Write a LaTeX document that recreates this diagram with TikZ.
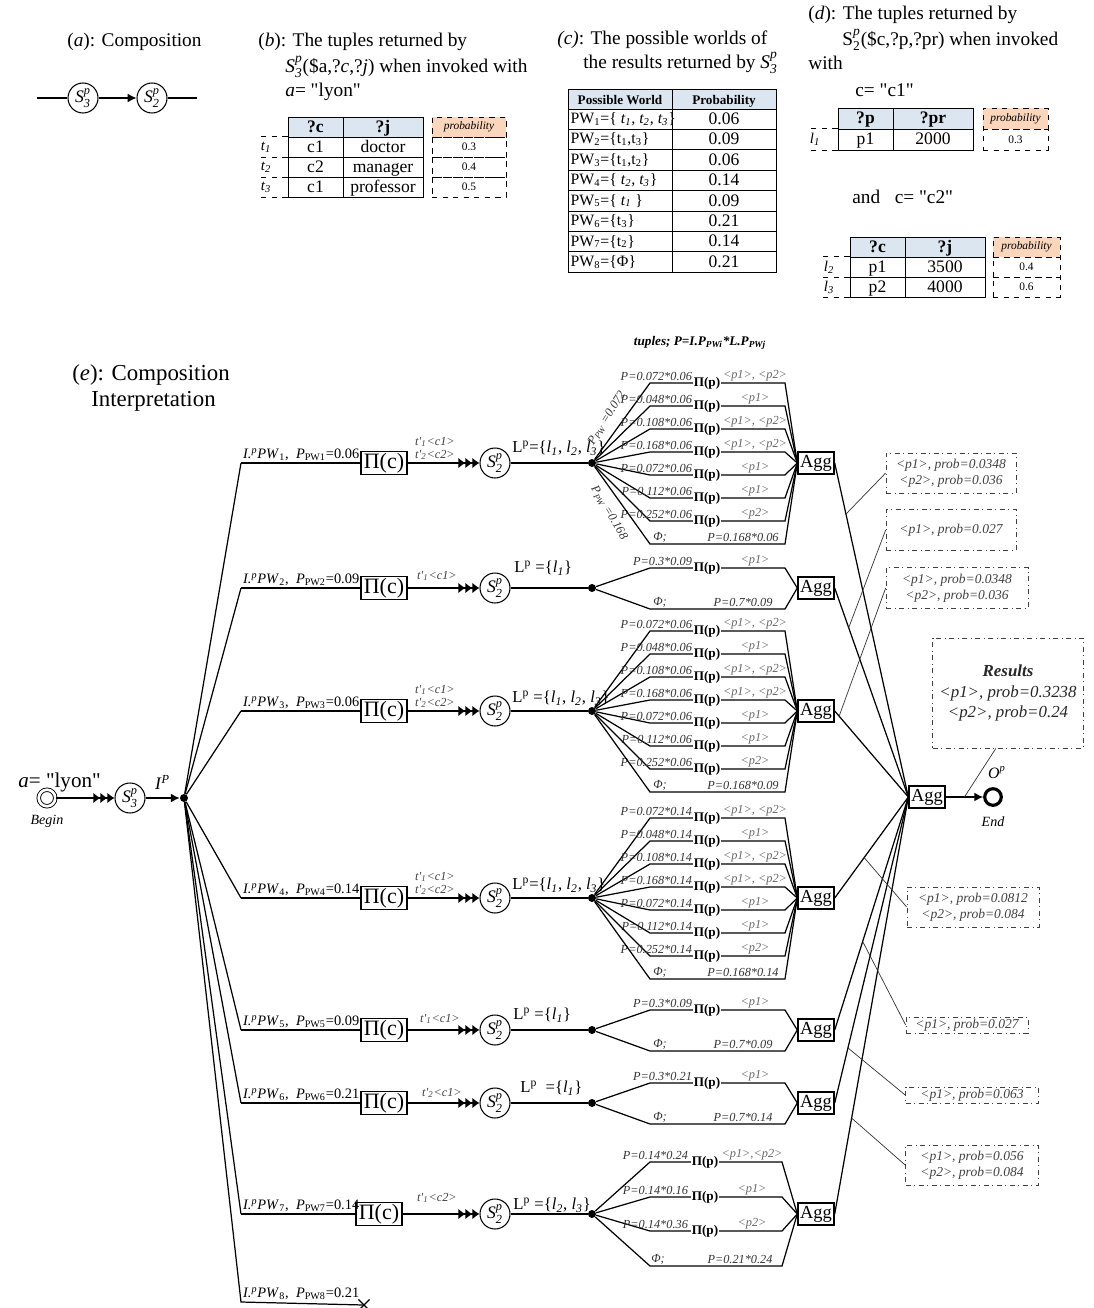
\documentclass[tikz,border=0pt]{standalone}
\usepackage{amsmath}
\usepackage{fontspec}
\setmainfont{Liberation Serif}[Ligatures=TeXOff]
\usetikzlibrary{arrows.meta,calc,positioning,shapes.misc}

\definecolor{headblue}{RGB}{220,230,241}
\definecolor{probpeach}{RGB}{250,214,188}

\newcommand{\Sp}[1]{$\textit{S}^{\textit{p}}_{\textit{#1}}$}
\newcommand{\IPW}[2]{\textit{I.\textsuperscript{p}PW}\textsubscript{#1},\ \ \textit{P}\textsubscript{PW#1}=#2}

\tikzset{
  svc/.style={circle, draw, line width=0.6pt, minimum size=0.6cm, inner sep=0pt, font=\fontsize{10}{10}\selectfont},
  projc/.style={draw, line width=0.8pt, minimum width=0.92cm, minimum height=0.46cm, inner sep=0pt, font=\fontsize{12.5}{12.5}\selectfont},
  aggbox/.style={draw, line width=0.8pt, minimum width=0.72cm, minimum height=0.44cm, inner sep=0pt, font=\fontsize{10.5}{10.5}\selectfont},
  junction/.style={circle, fill, inner sep=0pt, minimum size=0.16cm},
  flow/.style={line width=0.7pt},
  tripletip/.style={-{Latex[length=4pt,width=6pt]Latex[length=4pt,width=6pt]Latex[length=4pt,width=6pt]}},
  brlab/.style={font=\fontsize{8.2}{8.2}\selectfont, inner sep=1pt, anchor=south west},
  tlab/.style={font=\fontsize{7}{7}\selectfont\itshape, text=black!75, inner sep=0.5pt},
  lplab/.style={font=\fontsize{9.5}{9.5}\selectfont, inner sep=0pt, anchor=west},
  plab/.style={font=\fontsize{7}{7}\selectfont\itshape, text=black!80, inner sep=1pt},
  rlab/.style={font=\fontsize{7}{7}\selectfont\itshape, text=black!60, inner sep=1pt},
  projp/.style={fill=white, font=\fontsize{7.5}{7.5}\selectfont\bfseries, inner sep=0.3pt},
  note/.style={draw=black!75, dash dot, line width=0.4pt, align=center, inner sep=0pt, font=\fontsize{7.7}{9}\selectfont\itshape, text=black!75},
  hint/.style={draw=black!80, line width=0.4pt},
  cell/.style={draw, line width=0.5pt, inner sep=0pt, minimum height=0.4cm, text height=1.6ex, text depth=0.3ex, font=\fontsize{10}{10}\selectfont},
  head/.style={cell, fill=headblue, font=\fontsize{10}{10}\selectfont\bfseries},
  probhead/.style={draw, dashed, line width=0.4pt, fill=probpeach, inner sep=0pt, minimum height=0.4cm, font=\fontsize{6.5}{6.5}\selectfont\itshape},
  probcell/.style={draw, dashed, line width=0.4pt, inner sep=0pt, minimum height=0.4cm, font=\fontsize{6.5}{6.5}\selectfont},
  rowlab/.style={font=\fontsize{8.5}{8.5}\selectfont\itshape, inner sep=0pt},
  rowrule/.style={dashed, line width=0.4pt},
  title/.style={font=\fontsize{11}{13}\selectfont, inner sep=0pt, anchor=west},
}

% eight-way fan: branch id, centre y, factor, last P
\newcommand{\bigfan}[4]{%
  \foreach \k/\dy/\pv/\res in {1/-80/0.072/{<p1>, <p2>},2/-57/0.048/{<p1>},3/-34/0.108/{<p1>, <p2>},4/-11/0.168/{<p1>, <p2>},5/12/0.072/{<p1>},6/35/0.112/{<p1>},7/58/0.252/{<p2>}}{%
    \coordinate (fa#1-\k) at (650,#2+\dy);
    \coordinate (fb#1-\k) at (785,#2+\dy);
    \draw[flow] (dot#1) -- (fa#1-\k) -- (fb#1-\k) -- (agg#1.west);
    \node[projp] at (707,#2+\dy) {Π(p)};
    \node[plab, anchor=south east] at (694,#2+\dy) {P=\pv*#3};
    \node[rlab, anchor=south] at (755,#2+\dy) {\res};
  }
  \coordinate (fa#1-8) at (650,#2+81);
  \coordinate (fb#1-8) at (785,#2+81);
  \draw[flow] (dot#1) -- (fa#1-8) -- (fb#1-8) -- (agg#1.west);
  \node[plab, anchor=south] at (660,#2+81) {Φ;};
  \node[plab, anchor=south] at (743,#2+81) {P=#4};
}

% two-way fan: branch id, centre y, top P, result, bottom P
\newcommand{\twofan}[5]{%
  \coordinate (fa#1-1) at (650,#2-20);
  \coordinate (fb#1-1) at (785,#2-20);
  \coordinate (fa#1-2) at (650,#2+21);
  \coordinate (fb#1-2) at (785,#2+21);
  \draw[flow] (dot#1) -- (fa#1-1) -- (fb#1-1) -- (agg#1.west);
  \draw[flow] (dot#1) -- (fa#1-2) -- (fb#1-2) -- (agg#1.west);
  \node[projp] at (707,#2-20) {Π(p)};
  \node[plab, anchor=south east] at (694,#2-20) {#3};
  \node[rlab, anchor=south] at (755,#2-20) {#4};
  \node[plab, anchor=south] at (660,#2+21) {Φ;};
  \node[plab, anchor=south] at (743,#2+21) {#5};
}

\begin{document}
\begin{tikzpicture}[x=0.02cm, y=-0.02cm]
\useasboundingbox (0,0) rectangle (1094,1308);

%% (a) COMPOSITION
\node[title] at (67,42) {(\textit{a}): Composition};
\node[svc] (a_s3) at (83,98) {\Sp{3}};
\node[svc] (a_s2) at (152,98) {\Sp{2}};
\coordinate (a_in) at (37,98);
\coordinate (a_out) at (197,98);
\draw[flow] (a_in) -- (a_s3);
\draw[flow, -{Latex[length=5pt,width=5pt]}] (a_s3) -- (a_s2);
\draw[flow] (a_s2) -- (a_out);

%% (b) TUPLES OF S3
\node[title] at (258,42) {(\textit{b}): The tuples returned by};
\node[title] at (285,67) {\Sp{3}(\$a,?\textit{c},?\textit{j}) when invoked with};
\node[title] at (285,92) {\textit{a}= "lyon"};

\node[head, minimum width=1.1cm] (b_c) at (315.5,127) {?c};
\node[head, minimum width=1.6cm] (b_j) at (383,127) {?j};
\node[probhead, minimum width=1.48cm] (b_p) at (469,127) {probability};
\foreach \r/\y/\c/\j/\p in {1/147/c1/doctor/0.3, 2/167/c2/manager/0.4, 3/187/c1/professor/0.5}{
  \node[cell, minimum width=1.1cm] (b_c\r) at (315.5,\y) {\c};
  \node[cell, minimum width=1.6cm] (b_j\r) at (383,\y) {\j};
  \node[probcell, minimum width=1.48cm] (b_p\r) at (469,\y) {\p};
  \node[rowlab] at (266,\y) {t\textsubscript{\r}};
  \draw[rowrule] (b_c\r.south west) -- ++(-30,0);
}
\draw[rowrule] (b_c1.north west) -- ++(-30,0);

%% (c) POSSIBLE WORLDS
\node[title] at (557,40) {\textit{(c)}: The possible worlds of};
\node[title] at (583,63) {the results returned by \Sp{3}};

\node[head, minimum width=2.08cm, font=\fontsize{7.5}{7.5}\selectfont\bfseries] (c_pw) at (620,99) {Possible World};
\node[head, minimum width=2.08cm, font=\fontsize{7.5}{7.5}\selectfont\bfseries] (c_pr) at (724,99) {Probability};
\foreach \r/\y/\w/\p in {
  1/119.2/{PW\textsubscript{1}=\{ \textit{t\textsubscript{1}, t\textsubscript{2}, t\textsubscript{3}}\}}/0.06,
  2/139.6/{PW\textsubscript{2}=\{t\textsubscript{1},t\textsubscript{3}\}}/0.09,
  3/160/{PW\textsubscript{3}=\{t\textsubscript{1},t\textsubscript{2}\}}/0.06,
  4/180.4/{PW\textsubscript{4}=\{ \textit{t\textsubscript{2}, t\textsubscript{3}}\}}/0.14,
  5/200.8/{PW\textsubscript{5}=\{ \textit{t\textsubscript{1}} \}}/0.09,
  6/221.2/{PW\textsubscript{6}=\{t\textsubscript{3}\}}/0.21,
  7/241.6/{PW\textsubscript{7}=\{t\textsubscript{2}\}}/0.14,
  8/262/{PW\textsubscript{8}=\{Φ\}}/0.21}{
  \node[cell, minimum width=2.08cm, minimum height=0.408cm] (c_w\r) at (620,\y) {};
  \node[anchor=west, inner sep=0pt, font=\fontsize{9}{9}\selectfont] at (c_w\r.west) {\,\w};
  \node[cell, minimum width=2.08cm, minimum height=0.408cm, font=\fontsize{10}{10}\selectfont] (c_p\r) at (724,\y) {\p};
}

%% (d) TUPLES OF S2
\node[title] at (808,15) {(\textit{d}): The tuples returned by};
\node[title] at (842,40) {$\text{S}^{\textit{p}}_{\text{2}}$(\$c,?p,?pr) when invoked};
\node[title] at (808,63) {with};
\node[title] at (855,90) {c= "c1"};

\node[head, minimum width=1.1cm, minimum height=0.42cm] (d_p) at (865.5,118.5) {?p};
\node[head, minimum width=1.6cm, minimum height=0.42cm] (d_pr) at (933,118.5) {?pr};
\node[probhead, minimum width=1.3cm, minimum height=0.42cm] (d_prob) at (1015.5,118.5) {probability};
\node[cell, minimum width=1.1cm, minimum height=0.42cm] (d_p1) at (865.5,139.5) {p1};
\node[cell, minimum width=1.6cm, minimum height=0.42cm] (d_pr1) at (933,139.5) {2000};
\node[probcell, minimum width=1.3cm, minimum height=0.42cm] (d_prob1) at (1015.5,139.5) {0.3};
\node[rowlab] at (815,139.5) {l\textsubscript{1}};
\draw[rowrule] (d_p1.north west) -- ++(-28,0);
\draw[rowrule] (d_p1.south west) -- ++(-28,0);

\node[title] at (852,197) {and~~~c= "c2"};

\node[head, minimum width=1.1cm] (e_c) at (877.5,247) {?c};
\node[head, minimum width=1.6cm] (e_j) at (945,247) {?j};
\node[probhead, minimum width=1.34cm] (e_p) at (1026.5,247) {probability};
\foreach \r/\y/\c/\j/\p in {2/267/p1/3500/0.4, 3/287/p2/4000/0.6}{
  \node[cell, minimum width=1.1cm] (e_c\r) at (877.5,\y) {\c};
  \node[cell, minimum width=1.6cm] (e_j\r) at (945,\y) {\j};
  \node[probcell, minimum width=1.34cm] (e_p\r) at (1026.5,\y) {\p};
  \node[rowlab] at (829,\y) {l\textsubscript{\r}};
  \draw[rowrule] (e_c\r.south west) -- ++(-27,0);
}
\draw[rowrule] (e_c2.north west) -- ++(-27,0);

%% (e) COMPOSITION INTERPRETATION
\node[title, font=\fontsize{13}{13}\selectfont] at (72,375) {(\textit{e}): Composition};
\node[title, font=\fontsize{13}{13}\selectfont] at (91,401) {Interpretation};

\node[font=\fontsize{7.5}{7.5}\selectfont\bfseries\itshape] at (700,343) {tuples; P=I.P\textsubscript{PWi}*L.P\textsubscript{PWj}};

% begin, S3 and the split
\node[circle, draw, double, line width=0.5pt, double distance=1.5pt, minimum size=0.3cm] (begin) at (47,798) {};
\node[font=\fontsize{8}{8}\selectfont\itshape, below=1pt of begin] {Begin};
\node[anchor=west, font=\fontsize{12}{12}\selectfont, inner sep=0pt] at (18,782) {\textit{a}= "lyon"};
\node[svc] (s3) at (130,798) {\Sp{3}};
\node[junction] (ip) at (184,798) {};
\draw[flow, tripletip] (begin) -- (s3);
\draw[flow, -{Latex[length=5pt,width=5pt]}] (s3) -- (ip) node[midway, above=1pt, font=\fontsize{10}{10}\selectfont] {\textit{I}\textsuperscript{\textit{P}}};

% final aggregation and end
\node[aggbox] (aggF) at (927,797) {Agg};
\node[circle, draw, line width=1.8pt, minimum size=0.3cm] (end) at (993,797) {};
\node[font=\fontsize{8}{8}\selectfont\itshape, below=2pt of end] {End};
\draw[flow, -{Latex[length=5pt,width=5pt]}] (aggF) -- (end);

% one branch per possible world
\foreach \k/\y/\v/\px in {1/463/0.06/384, 2/588/0.09/384, 3/711/0.06/384, 4/898/0.14/384, 5/1030/0.09/384, 6/1103/0.21/384, 7/1214/0.14/379}{
  \coordinate (pw\k) at (241,\y);
  \draw[flow] (ip) -- (pw\k);
  \node[brlab] at (pw\k) {\IPW{\k}{\v}};
  \node[projc] (pc\k) at (\px,\y) {Π(c)};
  \node[svc] (s2_\k) at (495,\y) {\Sp{2}};
  \node[junction] (dot\k) at (592,\y) {};
  \node[aggbox] (agg\k) at (816,\y) {Agg};
  \draw[flow] (pw\k) -- (pc\k);
  \draw[flow, tripletip] (pc\k) -- (s2_\k);
  \draw[flow] (s2_\k) -- (dot\k);
  \draw[flow] (agg\k.east) -- (aggF.west);
}
\coordinate (pw8) at (241,1302);
\node[cross out, draw, line width=0.7pt, minimum size=0.2cm, inner sep=0pt] (x8) at (364,1305) {};
\draw[flow] (ip) -- (pw8) -- (x8.center);
\node[brlab] at (pw8) {\IPW{8}{0.21}};

% tuples sent to S2
\node[tlab] at (435,442) {t'\textsubscript{1}<c1>};
\node[tlab] at (435,455) {t'\textsubscript{2}<c2>};
\node[tlab] at (437,576) {t'\textsubscript{1}<c1>};
\node[tlab] at (435,690) {t'\textsubscript{1}<c1>};
\node[tlab] at (435,703) {t'\textsubscript{2}<c2>};
\node[tlab] at (435,877) {t'\textsubscript{1}<c1>};
\node[tlab] at (435,890) {t'\textsubscript{2}<c2>};
\node[tlab] at (440,1019) {t'\textsubscript{1}<c1>};
\node[tlab] at (442,1093) {t'\textsubscript{2}<c1>};
\node[tlab] at (437,1198) {t'\textsubscript{1}<c2>};

% results of S2
\node[lplab] at (512,448) {L\textsuperscript{p}=\{\textit{l}\textsubscript{\textit{1}}, \textit{l}\textsubscript{\textit{2}}, \textit{l}\textsubscript{\textit{3}}\}};
\node[lplab] at (514,568) {L\textsuperscript{p} =\{\textit{l}\textsubscript{\textit{1}}\}};
\node[lplab] at (512,698) {L\textsuperscript{p} =\{\textit{l}\textsubscript{\textit{1}}, \textit{l}\textsubscript{\textit{2}}, \textit{l}\textsubscript{\textit{3}}\}};
\node[lplab] at (512,885) {L\textsuperscript{p}=\{\textit{l}\textsubscript{\textit{1}}, \textit{l}\textsubscript{\textit{2}}, \textit{l}\textsubscript{\textit{3}}\}};
\node[lplab] at (513,1015) {L\textsuperscript{p} =\{\textit{l}\textsubscript{\textit{1}}\}};
\node[lplab] at (520,1088) {L\textsuperscript{p}~~=\{\textit{l}\textsubscript{\textit{1}}\}};
\node[lplab] at (513,1205) {L\textsuperscript{p} =\{\textit{l}\textsubscript{\textit{2}}, \textit{l}\textsubscript{\textit{3}}\}};

% projections on p
\bigfan{1}{463}{0.06}{0.168*0.06}
\twofan{2}{588}{P=0.3*0.09}{<p1>}{P=0.7*0.09}
\bigfan{3}{711}{0.06}{0.168*0.09}
\bigfan{4}{898}{0.14}{0.168*0.14}
\twofan{5}{1030}{P=0.3*0.09}{<p1>}{P=0.7*0.09}
\twofan{6}{1103}{P=0.3*0.21}{<p1>}{P=0.7*0.14}
\foreach \k/\dy/\pv/\res in {1/-52/{P=0.14*0.24}/{<p1>,<p2>}, 2/-17/{P=0.14*0.16}/{<p1>}, 3/17/{P=0.14*0.36}/{<p2>}}{
  \coordinate (fa7-\k) at (650,1214+\dy);
  \coordinate (fb7-\k) at (782,1214+\dy);
  \draw[flow] (dot7) -- (fa7-\k) -- (fb7-\k) -- (agg7.west);
  \node[projp] at (705,1214+\dy) {Π(p)};
  \node[plab, anchor=south east] at (690,1214+\dy) {\pv};
  \node[rlab, anchor=south] at (752,1214+\dy) {\res};
}
\coordinate (fa7-4) at (650,1266);
\coordinate (fb7-4) at (782,1266);
\draw[flow] (dot7) -- (fa7-4) -- (fb7-4) -- (agg7.west);
\node[plab, anchor=south] at (658,1266) {Φ;};
\node[plab, anchor=south] at (740,1266) {P=0.21*0.24};

\node[plab, rotate=58] at (607,418) {P\textsubscript{PW} =0.072};
\node[plab, rotate=-59] at (609,513) {P\textsubscript{PW} =0.168};

% partial results
\node[note, minimum width=2.6cm, minimum height=0.8cm] (n1) at (951,473) {<p1>, prob=0.0348\\<p2>, prob=0.036};
\node[note, minimum width=2.6cm, minimum height=0.82cm] (n2) at (951,530) {<p1>, prob=0.027};
\node[note, minimum width=2.84cm, minimum height=0.82cm] (n3) at (957,588) {<p1>, prob=0.0348\\<p2>, prob=0.036};
\node[note, minimum width=2.64cm, minimum height=0.8cm] (n4) at (973,907) {<p1>, prob=0.0812\\<p2>, prob=0.084};
\node[note, minimum width=2.44cm, minimum height=0.32cm] (n5) at (967,1025) {<p1>, prob=0.027};
\node[note, minimum width=2.66cm, minimum height=0.32cm] (n6) at (972,1095) {<p1>, prob=0.063};
\node[note, minimum width=2.66cm, minimum height=0.8cm] (n7) at (972,1165) {<p1>, prob=0.056\\<p2>, prob=0.084};
\node[note, minimum width=3.02cm, minimum height=2.2cm, font=\fontsize{9.6}{11.5}\selectfont\itshape, text=black!85] (n_res) at (1008,693) {\textbf{Results}\\<p1>, prob=0.3238\\<p2>, prob=0.24};

\foreach \n/\k/\t in {1/1/0.153, 2/2/0.19, 3/3/0.06, 4/4/0.4, 5/5/0.38, 6/6/0.18, 7/7/0.23}{
  \coordinate (j\n) at ($(agg\k.east)!\t!(aggF.west)$);
  \draw[hint] (n\n.west) -- (j\n);
}
\coordinate (j_res) at ($(aggF.east)!0.5!(end.west)$);
\draw[hint] ($(n_res.south west)!0.42!(n_res.south east)$) -- (j_res) node[midway, right=1pt, font=\fontsize{9}{9}\selectfont\itshape] {O\textsuperscript{p}};

\end{tikzpicture}
\end{document}
